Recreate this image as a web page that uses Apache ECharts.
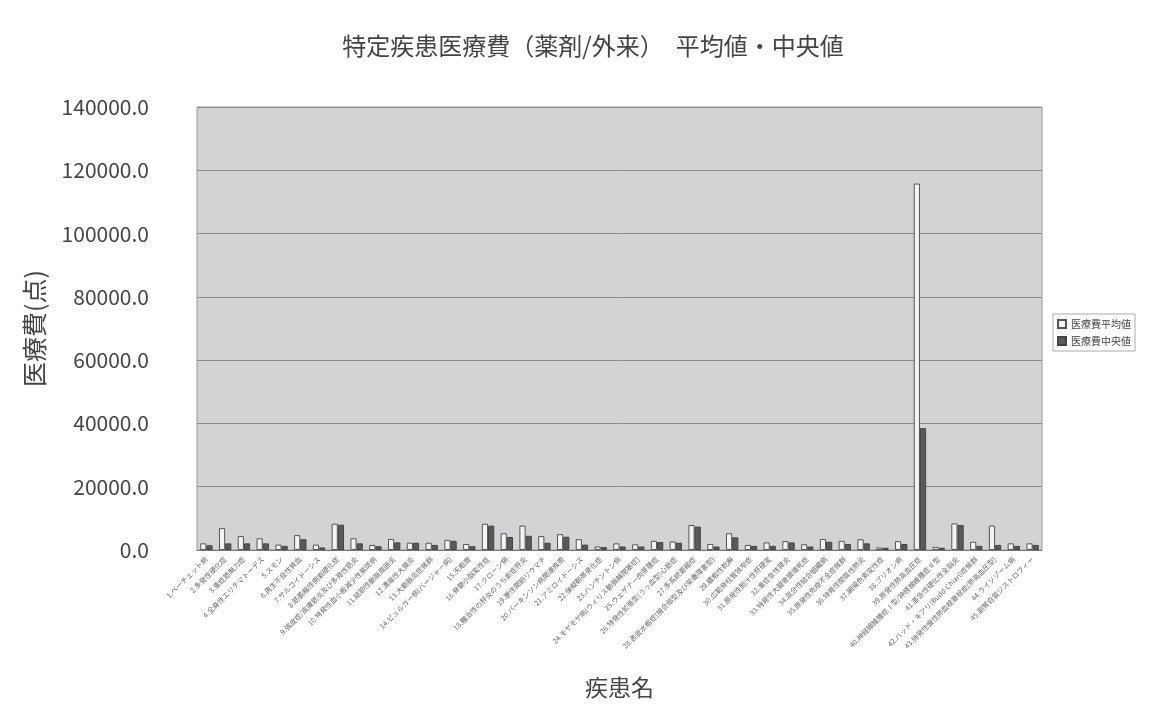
<!DOCTYPE html>
<html>
<head>
<meta charset="utf-8">
<script src="https://cdn.jsdelivr.net/npm/echarts@6/dist/echarts.min.js"></script>
<style>
  html, body { margin: 0; padding: 0; background: #ffffff; }
  #chart { width: 1157px; height: 711px; }
</style>
</head>
<body>
<div id="chart"></div>
<script>
// 疾患名（カテゴリ）
const diseases = [
  '1.ベーチェット病', '2.多発性硬化症', '3.重症筋無力症', '4.全身性エリテマトーデス', '5.スモン',
  '6.再生不良性貧血', '7.サルコイドーシス', '8.筋萎縮性側索硬化症', '9.強皮症/皮膚筋炎及び多発性筋炎',
  '10.特発性血小板減少性紫斑病', '11.結節性動脈周囲炎', '12.潰瘍性大腸炎', '13.大動脈炎症候群',
  '14.ビュルガー病(バージャー病)', '15.天疱瘡', '16.脊髄小脳変性症', '17.クローン病',
  '18.難治性の肝炎のうち劇症肝炎', '19.悪性関節リウマチ', '20.パーキンソン病関連疾患',
  '21.アミロイドーシス', '22.後縦靭帯骨化症', '23.ハンチントン病',
  '24.モヤモヤ病(ウィリス動脈輪閉塞症)', '25.ウェゲナー肉芽腫症',
  '26.特発性拡張型(うっ血型)心筋症', '27.多系統萎縮症',
  '28.表皮水疱症(接合部型及び栄養障害型)', '29.膿疱性乾癬', '30.広範脊柱管狭窄症',
  '31.原発性胆汁性肝硬変', '32.重症急性膵炎', '33.特発性大腿骨頭壊死症', '34.混合性結合組織病',
  '35.原発性免疫不全症候群', '36.特発性間質性肺炎', '37.網膜色素変性症', '38.プリオン病',
  '39.原発性肺高血圧症', '40.神経線維腫症Ⅰ型/神経線維腫症Ⅱ型', '41.亜急性硬化性全脳炎',
  '42.バッド・キアリ(Budd-Chiari)症候群', '43.特発性慢性肺血栓塞栓症(肺高血圧型)',
  '44.ライソゾーム病', '45.副腎白質ジストロフィー'
];

// 医療費平均値
const meanCost = [
  2100, 6900, 4400, 3700, 1700, 4700, 1700, 8300, 3700, 1600,
  3500, 2300, 2300, 3200, 1900, 8300, 5300, 7700, 4400, 5000,
  3400, 1100, 2100, 1800, 2900, 2700, 7900, 1900, 5300, 1600,
  2400, 2800, 1800, 3500, 2900, 3400, 800, 2800, 115800, 1000,
  8400, 2600, 7700, 2100, 2100
];

// 医療費中央値
const medianCost = [
  1500, 2100, 2100, 2100, 1300, 3400, 800, 8000, 2100, 1200,
  2400, 2300, 1600, 2900, 1200, 7700, 4100, 4500, 2300, 4200,
  1700, 900, 1100, 1100, 2500, 2300, 7400, 1100, 4000, 1300,
  1300, 2400, 1100, 2600, 1900, 2100, 700, 1900, 38500, 700,
  7900, 1300, 1600, 1300, 1600
];

const chart = echarts.init(document.getElementById('chart'));

const option = {
  backgroundColor: '#ffffff',
  textStyle: { fontFamily: '"Noto Sans CJK JP", "Noto Sans", sans-serif' },
  title: {
    text: '特定疾患医療費（薬剤/外来）　平均値・中央値',
    left: 588,
    top: 29,
    textAlign: 'center',
    textStyle: { fontSize: 24, fontWeight: 'normal', color: '#444' }
  },
  legend: {
    orient: 'vertical',
    left: 1053,
    top: 314,
    itemWidth: 8,
    itemHeight: 8,
    itemGap: 7,
    padding: [5, 4],
    borderColor: '#aaa',
    borderWidth: 1,
    textStyle: { fontSize: 10, color: '#444' },
    data: [
      { name: '医療費平均値', icon: 'rect' },
      { name: '医療費中央値', icon: 'rect' }
    ]
  },
  grid: {
    left: 197,
    right: 115,
    top: 107,
    bottom: 161,
    show: true,
    backgroundColor: '#d3d3d6',
    borderColor: '#999',
    borderWidth: 1
  },
  xAxis: {
    type: 'category',
    data: diseases,
    name: '疾患名',
    nameLocation: 'middle',
    nameGap: 126,
    nameTextStyle: { fontSize: 23, color: '#444' },
    axisLine: { lineStyle: { color: '#777' } },
    axisTick: { show: false },
    axisLabel: {
      interval: 0,
      rotate: 45,
      fontSize: 7,
      color: '#666',
      margin: 8
    }
  },
  yAxis: {
    type: 'value',
    min: 0,
    max: 140000,
    interval: 20000,
    name: '医療費(点)',
    nameLocation: 'middle',
    nameGap: 150,
    nameRotate: 90,
    nameTextStyle: { fontSize: 25, color: '#444' },
    axisLine: { show: false },
    axisTick: { show: false },
    axisLabel: {
      fontSize: 21,
      color: '#444',
      margin: 48,
      formatter: v => v.toFixed(1)
    },
    splitLine: { lineStyle: { color: '#8c8c8c', width: 1 } }
  },
  series: [
    {
      name: '医療費平均値',
      type: 'bar',
      data: meanCost,
      barGap: '0%',
      barCategoryGap: '34%',
      itemStyle: { color: '#f4f4f4', borderColor: '#555', borderWidth: 1 }
    },
    {
      name: '医療費中央値',
      type: 'bar',
      data: medianCost,
      itemStyle: { color: '#5a5a5a', borderColor: '#444', borderWidth: 1 }
    }
  ]
};

chart.setOption(option);
</script>
</body>
</html>
